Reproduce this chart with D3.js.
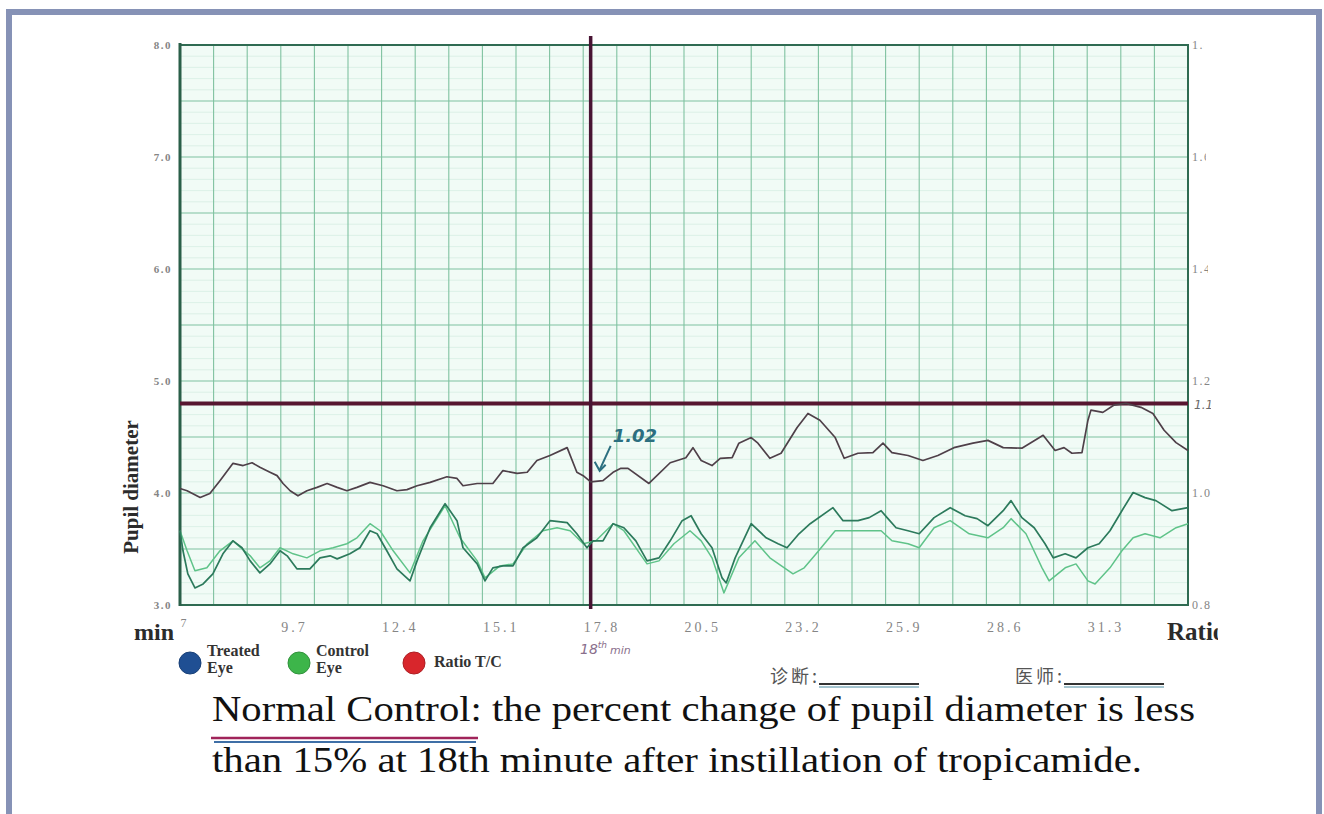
<!DOCTYPE html>
<html>
<head>
<meta charset="utf-8">
<script src="https://cdn.jsdelivr.net/npm/d3@7"></script>
<style>
  html, body { margin: 0; padding: 0; background: #fff; }
  svg { display: block; }
</style>
</head>
<body>
<svg id="chart" width="1324" height="814"></svg>
<script>
// ---- data: pupillometry trace (minutes after instillation) ----
const minuteTicks = [7, 9.7, 12.4, 15.1, 17.8, 20.5, 23.2, 25.9, 28.6, 31.3];
const diameterTicks = [3, 4, 5, 6, 7, 8];
const ratioTicks = [0.8, 1.0, 1.2, 1.4, 1.6, 1.8];

const ratioMin = [7.00,7.19,7.54,7.80,8.07,8.42,8.69,8.93,9.14,9.41,9.60,9.76,9.95,10.16,10.40,10.67,10.94,11.21,11.47,11.74,12.09,12.44,12.81,13.08,13.35,13.70,14.15,14.42,14.58,14.96,15.38,15.65,16.03,16.30,16.56,16.91,17.37,17.63,17.80,18.00,18.33,18.60,18.81,19.00,19.56,20.13,20.55,20.74,20.96,21.25,21.47,21.79,21.97,22.30,22.48,22.80,23.10,23.53,23.82,24.14,24.55,24.79,25.16,25.56,25.83,26.07,26.50,26.90,27.30,27.73,28.24,28.64,29.05,29.55,30.12,30.44,30.68,30.89,31.16,31.32,31.40,31.72,32.02,32.34,32.74,33.06,33.36,33.68,34.00];
const ratioVal = [1.008,1.004,0.992,0.999,1.022,1.053,1.049,1.054,1.046,1.037,1.031,1.017,1.004,0.995,1.004,1.010,1.017,1.010,1.004,1.010,1.019,1.013,1.004,1.006,1.013,1.019,1.029,1.026,1.013,1.017,1.017,1.040,1.035,1.037,1.058,1.067,1.081,1.037,1.031,1.020,1.022,1.037,1.044,1.044,1.017,1.054,1.063,1.081,1.058,1.049,1.062,1.063,1.089,1.099,1.089,1.062,1.071,1.117,1.142,1.130,1.099,1.062,1.071,1.072,1.089,1.072,1.067,1.058,1.067,1.081,1.089,1.094,1.081,1.080,1.103,1.076,1.081,1.071,1.072,1.130,1.148,1.144,1.157,1.160,1.153,1.142,1.112,1.090,1.076];

const treatedMin = [7.00,7.08,7.21,7.40,7.62,7.88,8.15,8.42,8.66,8.88,9.14,9.41,9.68,9.87,10.13,10.48,10.75,11.02,11.21,11.55,11.82,12.09,12.28,12.54,12.81,13.16,13.35,13.70,14.10,14.42,14.58,14.96,15.17,15.38,15.65,15.92,16.19,16.56,16.91,17.37,17.63,17.90,18.06,18.33,18.60,18.89,19.21,19.51,19.83,20.13,20.45,20.69,20.96,21.25,21.52,21.63,21.87,22.30,22.70,23.02,23.26,23.58,23.88,24.49,24.76,25.16,25.46,25.78,25.94,26.18,26.50,26.80,27.20,27.63,28.03,28.35,28.64,29.05,29.26,29.55,29.88,30.17,30.39,30.71,31.00,31.32,31.62,31.91,32.23,32.53,32.85,33.14,33.57,34.00];
const treatedVal = [3.663,3.484,3.278,3.152,3.188,3.278,3.457,3.573,3.511,3.394,3.287,3.367,3.484,3.439,3.323,3.323,3.421,3.439,3.412,3.457,3.511,3.663,3.636,3.484,3.323,3.215,3.394,3.690,3.905,3.753,3.511,3.367,3.215,3.332,3.349,3.349,3.511,3.600,3.753,3.735,3.636,3.511,3.573,3.573,3.726,3.690,3.573,3.394,3.421,3.573,3.753,3.797,3.636,3.511,3.242,3.197,3.421,3.726,3.600,3.547,3.511,3.636,3.726,3.869,3.753,3.753,3.780,3.842,3.780,3.690,3.663,3.636,3.780,3.869,3.797,3.771,3.708,3.842,3.932,3.780,3.690,3.547,3.421,3.457,3.421,3.511,3.547,3.663,3.842,4.004,3.959,3.932,3.842,3.869];

const controlMin = [7.00,7.19,7.40,7.72,8.07,8.42,8.88,9.14,9.41,9.68,10.03,10.40,10.75,11.10,11.47,11.74,12.09,12.36,12.71,13.16,13.51,14.10,14.50,14.96,15.17,15.57,15.92,16.30,16.72,17.10,17.45,17.80,18.14,18.60,18.89,19.51,19.83,20.23,20.66,20.96,21.25,21.57,21.97,22.40,22.80,23.42,23.72,24.04,24.55,25.16,25.78,26.07,26.50,26.80,27.20,27.63,28.14,28.64,29.05,29.26,29.66,30.09,30.28,30.71,31.00,31.32,31.51,31.91,32.23,32.53,32.85,33.25,33.68,34.00];
const controlVal = [3.663,3.484,3.305,3.332,3.484,3.573,3.439,3.332,3.394,3.511,3.457,3.421,3.484,3.511,3.547,3.600,3.726,3.663,3.484,3.287,3.573,3.887,3.600,3.394,3.242,3.349,3.367,3.547,3.663,3.690,3.663,3.547,3.573,3.726,3.663,3.367,3.394,3.547,3.663,3.573,3.421,3.108,3.421,3.573,3.421,3.278,3.332,3.457,3.663,3.663,3.663,3.573,3.547,3.511,3.690,3.753,3.636,3.600,3.690,3.771,3.636,3.332,3.215,3.332,3.367,3.215,3.188,3.332,3.484,3.600,3.636,3.600,3.690,3.726];

const markerMinute = 18;      // reading taken at the 18th minute
const markerRatio = 1.02;     // T/C ratio at that minute
const thresholdRatio = 1.16;  // upper reference line

const legendItems = [
  { lines: ["Treated", "Eye"], color: "#1f4f93" },
  { lines: ["Control", "Eye"], color: "#3db54a" },
  { lines: ["Ratio T/C"], color: "#d8262c" }
];

// ---- layout ----
const svg = d3.select("#chart");
const L = 180, R = 1188, T = 45, B = 605;

const x = d3.scaleLinear().domain([7, 34]).range([L, R]);
const yD = d3.scaleLinear().domain([3, 8]).range([B, T]);
const yR = d3.scaleLinear().domain([0.8, 1.8]).range([B, T]);

// slide frame
const frame = "#8692b6";
svg.append("rect").attr("x", 6).attr("y", 9).attr("width", 1316).attr("height", 6).attr("fill", frame);
svg.append("rect").attr("x", 6).attr("y", 9).attr("width", 6).attr("height", 805).attr("fill", frame);
svg.append("rect").attr("x", 1316).attr("y", 9).attr("width", 6).attr("height", 805).attr("fill", frame);

// the printed sheet's right edge cuts the right-hand labels at a slant
svg.append("defs").append("clipPath").attr("id", "sheet")
  .append("polygon")
  .attr("points", [[0,0],[1203,0],[1210,380],[1214,500],[1218,640],[1222,814],[0,814]].map(p => p.join(",")).join(" "));

const g = svg.append("g").attr("clip-path", "url(#sheet)");

// plot paper
g.append("rect").attr("x", L).attr("y", T).attr("width", R - L).attr("height", B - T).attr("fill", "#f1fbf6");

// minor horizontal rules
g.append("g").selectAll("line")
  .data(d3.range(30, 80).map(d => d / 10).filter(d => Math.round(d * 10) % 5 !== 0))
  .join("line")
  .attr("x1", L).attr("x2", R)
  .attr("y1", d => yD(d)).attr("y2", d => yD(d))
  .attr("stroke", "#d6eee2").attr("stroke-width", 0.8);

// major horizontal rules
g.append("g").selectAll("line")
  .data(d3.range(30, 81, 5).map(d => d / 10))
  .join("line")
  .attr("x1", L).attr("x2", R)
  .attr("y1", d => yD(d)).attr("y2", d => yD(d))
  .attr("stroke", "#7fc2a0").attr("stroke-width", 1.1);

// vertical rules every 0.9 min
g.append("g").selectAll("line")
  .data(d3.range(0, 31).map(i => 7 + i * 0.9))
  .join("line")
  .attr("x1", d => x(d)).attr("x2", d => x(d))
  .attr("y1", T).attr("y2", B)
  .attr("stroke", "#7fc2a0").attr("stroke-width", 1.1);

// plot border
g.append("rect").attr("x", L).attr("y", T).attr("width", R - L).attr("height", B - T)
  .attr("fill", "none").attr("stroke", "#2f6b52").attr("stroke-width", 2);
g.append("line").attr("x1", L).attr("x2", L).attr("y1", T - 2).attr("y2", B + 1)
  .attr("stroke", "#2a5f49").attr("stroke-width", 3);

// reference lines
g.append("line")
  .attr("x1", L).attr("x2", R)
  .attr("y1", yR(thresholdRatio)).attr("y2", yR(thresholdRatio))
  .attr("stroke", "#571630").attr("stroke-width", 4);
g.append("line")
  .attr("x1", x(markerMinute)).attr("x2", x(markerMinute))
  .attr("y1", T - 9).attr("y2", B + 4)
  .attr("stroke", "#481433").attr("stroke-width", 3.5);

// traces
const lineD = d3.line().x(d => x(d[0])).y(d => yD(d[1]));
const lineR = d3.line().x(d => x(d[0])).y(d => yR(d[1]));

g.append("path").datum(d3.zip(controlMin, controlVal))
  .attr("d", lineD).attr("fill", "none")
  .attr("stroke", "#5fc389").attr("stroke-width", 1.5).attr("stroke-linejoin", "round");
g.append("path").datum(d3.zip(treatedMin, treatedVal))
  .attr("d", lineD).attr("fill", "none")
  .attr("stroke", "#2c7a5c").attr("stroke-width", 1.7).attr("stroke-linejoin", "round");
g.append("path").datum(d3.zip(ratioMin, ratioVal))
  .attr("d", lineR).attr("fill", "none")
  .attr("stroke", "#4f4049").attr("stroke-width", 1.7).attr("stroke-linejoin", "round");

// axes
const labelColor = "#858585";
const leftAxis = g.append("g").attr("transform", `translate(${L - 8},0)`)
  .call(d3.axisLeft(yD).tickValues(diameterTicks).tickFormat(d3.format(".1f")).tickSize(0).tickPadding(0));
leftAxis.select(".domain").remove();
leftAxis.selectAll("text")
  .attr("font-family", "Liberation Serif").attr("font-size", 11).attr("fill", labelColor)
  .attr("letter-spacing", 1.5).attr("font-weight", "bold");

const rightAxis = g.append("g").attr("transform", `translate(${R + 4},0)`)
  .call(d3.axisRight(yR).tickValues(ratioTicks).tickFormat(d3.format(".1f")).tickSize(0).tickPadding(0));
rightAxis.select(".domain").remove();
rightAxis.selectAll("text")
  .attr("font-family", "Liberation Serif").attr("font-size", 12).attr("fill", labelColor)
  .attr("letter-spacing", 1.5);

const bottomAxis = g.append("g").attr("transform", `translate(0,${B})`)
  .call(d3.axisBottom(x).tickValues(minuteTicks).tickFormat(d => d === 7 ? "7" : d.toFixed(1)).tickSize(0).tickPadding(0));
bottomAxis.select(".domain").remove();
bottomAxis.selectAll("text")
  .attr("text-anchor", "start")
  .attr("font-family", "Liberation Serif")
  .attr("font-size", d => d === 7 ? 12 : 14)
  .attr("letter-spacing", d => d === 7 ? 0 : 3)
  .attr("fill", labelColor)
  .attr("dy", null)
  .attr("y", d => d === 7 ? 22 : 27);

// axis titles
g.append("text").attr("x", 134).attr("y", 640)
  .attr("font-family", "Liberation Serif").attr("font-weight", "bold").attr("font-size", 24)
  .attr("fill", "#2b2b2b").text("min");
g.append("text").attr("x", 1167).attr("y", 640)
  .attr("font-family", "Liberation Serif").attr("font-weight", "bold").attr("font-size", 25)
  .attr("fill", "#2b2b2b").text("Ratio");
g.append("text")
  .attr("transform", "translate(138,487) rotate(-90)")
  .attr("text-anchor", "middle")
  .attr("font-family", "Liberation Serif").attr("font-weight", "bold").attr("font-size", 21)
  .attr("fill", "#2b2b2b").text("Pupil diameter");

// handwritten threshold value by the right edge
g.append("text").attr("x", R + 6).attr("y", yR(thresholdRatio) + 6)
  .attr("font-family", "DejaVu Sans").attr("font-style", "italic").attr("font-size", 12)
  .attr("fill", "#6a6a6a").text("1.16");

// handwritten reading at the marker
const ax = x(markerMinute), ay = yR(markerRatio);
svg.append("text").attr("x", ax + 22).attr("y", ay - 40)
  .attr("font-family", "DejaVu Sans").attr("font-style", "italic").attr("font-weight", "bold")
  .attr("font-size", 18).attr("fill", "#2c6f80").text(markerRatio.toFixed(2));
svg.append("path")
  .attr("d", `M${ax + 20},${ay - 36} L${ax + 9},${ay - 12}`)
  .attr("stroke", "#2c6f80").attr("stroke-width", 2).attr("fill", "none");
svg.append("path")
  .attr("d", `M${ax + 4},${ay - 20} L${ax + 9},${ay - 11} L${ax + 15},${ay - 17}`)
  .attr("stroke", "#2c6f80").attr("stroke-width", 2).attr("fill", "none");

// handwritten "18th min" under the axis
const hw = svg.append("text").attr("x", 580).attr("y", 654)
  .attr("font-family", "DejaVu Sans").attr("font-style", "italic")
  .attr("fill", "#8a6f8c");
hw.append("tspan").attr("font-size", 14).text("18");
hw.append("tspan").attr("font-size", 9).attr("dy", -6).text("th");
hw.append("tspan").attr("font-size", 11).attr("dy", 6).attr("dx", 3).text("min");

// legend
const legendX = [190, 299, 414];
const legend = svg.append("g").selectAll("g").data(legendItems).join("g")
  .attr("transform", (d, i) => `translate(${legendX[i]},663)`);
legend.append("circle").attr("r", 11).attr("fill", d => d.color)
  .attr("stroke", d => d3.color(d.color).darker(0.6)).attr("stroke-width", 1);
legend.each(function(d) {
  const t = d3.select(this).append("text")
    .attr("font-family", "Liberation Serif").attr("font-weight", "bold").attr("font-size", 16)
    .attr("fill", "#333");
  if (d.lines.length === 1) {
    t.append("tspan").attr("x", 20).attr("y", 4).text(d.lines[0]);
  } else {
    t.selectAll("tspan").data(d.lines).join("tspan")
      .attr("x", 17).attr("y", (s, i) => -7 + i * 17).text(s => s);
  }
});

// signature fields
const fields = [{ label: "诊断:", x: 770 }, { label: "医师:", x: 1015 }];
fields.forEach(f => {
  const t = svg.append("text").attr("x", f.x).attr("y", 683)
    .attr("font-family", "Noto Sans CJK SC").attr("font-size", 18).attr("fill", "#555")
    .attr("letter-spacing", 3)
    .text(f.label);
  const end = f.x + t.node().getComputedTextLength() - 1;
  svg.append("line").attr("x1", end).attr("x2", end + 100).attr("y1", 684).attr("y2", 684)
    .attr("stroke", "#333").attr("stroke-width", 2);
  svg.append("line").attr("x1", end).attr("x2", end + 100).attr("y1", 687).attr("y2", 687)
    .attr("stroke", "#4a8aa0").attr("stroke-width", 1);
});

// caption
svg.append("text").attr("x", 212).attr("y", 721)
  .attr("font-family", "Liberation Serif").attr("font-size", 36).attr("fill", "#111")
  .attr("textLength", 983).attr("lengthAdjust", "spacingAndGlyphs")
  .text("Normal Control: the percent change of pupil diameter is less");
svg.append("text").attr("x", 212).attr("y", 772)
  .attr("font-family", "Liberation Serif").attr("font-size", 36).attr("fill", "#111")
  .attr("textLength", 930).attr("lengthAdjust", "spacingAndGlyphs")
  .text("than 15% at 18th minute after instillation of tropicamide.");
svg.append("line").attr("x1", 211).attr("x2", 478).attr("y1", 738).attr("y2", 738)
  .attr("stroke", "#a0245a").attr("stroke-width", 2.5);
svg.append("line").attr("x1", 214).attr("x2", 476).attr("y1", 742).attr("y2", 742)
  .attr("stroke", "#3f6fa6").attr("stroke-width", 1.8);
</script>
</body>
</html>
